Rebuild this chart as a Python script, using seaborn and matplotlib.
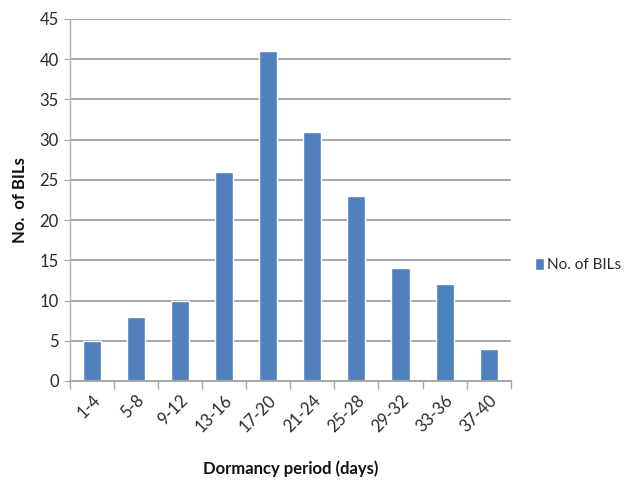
import matplotlib
matplotlib.use("Agg")
import matplotlib.pyplot as plt
import seaborn as sns
import numpy as np
import pandas as pd

categories = ["1-4", "5-8", "9-12", "13-16", "17-20", "21-24", "25-28", "29-32", "33-36", "37-40"]
values = [5, 8, 10, 26, 41, 31, 23, 14, 12, 4]
series_name = "No. of BILs"

df = pd.DataFrame({"period": categories, "count": values, "series": series_name})

sns.set_style("white")
plt.rcParams['font.family'] = ['Lato', 'DejaVu Sans']

fig = plt.figure(figsize=(6.36, 4.98), dpi=100)
ax = fig.add_axes([0.110, 0.235, 0.693, 0.727])

bar_color = "#4F81BD"
sns.barplot(data=df, x="period", y="count", hue="series", palette=[bar_color],
            width=0.41, ax=ax, legend=True, saturation=1)

ax.set_ylim(0, 45)
ax.set_xlim(-0.5, len(categories) - 0.5)
ax.set_yticks(np.arange(0, 46, 5))
ax.yaxis.grid(True, color="#A6A6A6", linewidth=1.4)
ax.set_axisbelow(True)

for s in ["top", "right"]:
    ax.spines[s].set_visible(False)
ax.spines["left"].set_color("#B0B0B0")
ax.spines["bottom"].set_color("#A6A6A6")
ax.spines["left"].set_linewidth(1.0)
ax.spines["bottom"].set_linewidth(1.4)

ax.tick_params(axis="y", which="major", length=4, color="#A6A6A6", labelsize=12, labelcolor="#2a2a2a", pad=4, left=True)
ax.tick_params(axis="x", which="major", length=0, labelsize=12, labelcolor="#2a2a2a", pad=8)
ax.set_xticks(range(len(categories)))
ax.set_xticklabels(categories, rotation=45, ha="right", rotation_mode="anchor")
ax.set_xticks(np.arange(-0.5, len(categories), 1.0), minor=True)
ax.tick_params(axis="x", which="minor", length=6, color="#A6A6A6", width=1.0, bottom=True)

ax.set_xlabel("Dormancy period (days)", fontsize=12, fontweight="bold", labelpad=18, color="#111111")
ax.set_ylabel("No.  of BILs", fontsize=12, fontweight="bold", labelpad=8, color="#111111")

leg = ax.legend(loc="center left", bbox_to_anchor=(1.055, 0.32), frameon=False, borderaxespad=0,
                borderpad=0, fontsize=11, handlelength=0.6, handleheight=0.8, handletextpad=0.2)
for t in leg.get_texts():
    t.set_color("#2a2a2a")

fig.savefig("out.png", dpi=100)
